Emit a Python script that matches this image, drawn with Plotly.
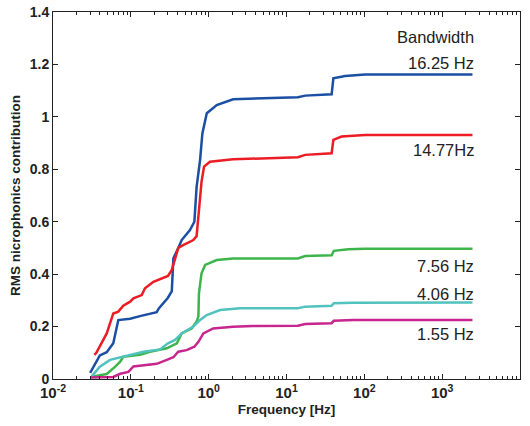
import plotly.graph_objects as go

# Frequency [Hz] / cumulative RMS microphonics for each bandwidth
blue_x = [0.030, 0.040, 0.049, 0.0595, 0.069, 0.098, 0.131, 0.215, 0.23, 0.275, 0.30, 0.336, 0.352, 0.407, 0.45, 0.575, 0.655, 0.70, 0.776, 0.83, 0.946, 1.27, 2.06, 14, 17.4, 38, 40, 56.6, 102, 2450]
blue_y = [0.023, 0.09, 0.102, 0.136, 0.225, 0.23, 0.24, 0.255, 0.27, 0.30, 0.31, 0.335, 0.46, 0.50, 0.53, 0.568, 0.60, 0.733, 0.836, 0.937, 1.014, 1.045, 1.067, 1.075, 1.081, 1.086, 1.147, 1.156, 1.162, 1.162]

red_x = [0.034, 0.036, 0.049, 0.0595, 0.069, 0.080, 0.098, 0.108, 0.138, 0.152, 0.195, 0.25, 0.30, 0.336, 0.37, 0.407, 0.47, 0.635, 0.70, 0.738, 0.81, 0.873, 1.04, 2.06, 14, 17.4, 38, 40, 51, 102, 2450]
red_y = [0.092, 0.10, 0.174, 0.25, 0.257, 0.28, 0.295, 0.308, 0.32, 0.346, 0.371, 0.384, 0.393, 0.416, 0.46, 0.50, 0.511, 0.53, 0.545, 0.632, 0.753, 0.81, 0.829, 0.838, 0.846, 0.855, 0.861, 0.912, 0.925, 0.931, 0.931]

green_x = [0.0314, 0.049, 0.063, 0.073, 0.080, 0.131, 0.176, 0.29, 0.39, 0.45, 0.605, 0.70, 0.738, 0.75, 0.81, 0.90, 1.27, 2.06, 14, 17.4, 38, 40.5, 62, 102, 2450]
green_y = [0.009, 0.019, 0.047, 0.066, 0.085, 0.092, 0.104, 0.117, 0.136, 0.174, 0.193, 0.219, 0.238, 0.327, 0.403, 0.435, 0.454, 0.46, 0.46, 0.469, 0.472, 0.489, 0.495, 0.497, 0.497]

cyan_x = [0.0314, 0.040, 0.054, 0.073, 0.098, 0.145, 0.237, 0.30, 0.37, 0.45, 0.635, 0.776, 0.946, 1.4, 2.53, 14, 17.4, 38, 40.5, 72, 2450]
cyan_y = [0.01, 0.047, 0.073, 0.083, 0.092, 0.104, 0.113, 0.136, 0.149, 0.174, 0.20, 0.225, 0.244, 0.263, 0.27, 0.27, 0.276, 0.279, 0.289, 0.291, 0.292]

mag_x = [0.030, 0.0595, 0.073, 0.093, 0.108, 0.145, 0.215, 0.29, 0.352, 0.407, 0.52, 0.655, 0.738, 0.855, 1.14, 2.06, 3.7, 14, 17.4, 38, 40.5, 72, 2450]
mag_y = [0.006, 0.008, 0.02, 0.027, 0.048, 0.052, 0.058, 0.073, 0.083, 0.104, 0.11, 0.123, 0.142, 0.174, 0.193, 0.199, 0.202, 0.203, 0.21, 0.213, 0.222, 0.225, 0.225]

x_tickvals = [0.01, 0.1, 1, 10, 100, 1000, 10000]
x_ticktext = ["10<sup>-2</sup>", "10<sup>-1</sup>", "10<sup>0</sup>", "10<sup>1</sup>",
              "10<sup>2</sup>", "10<sup>3</sup>", "10<sup>4</sup>"]
y_tickvals = [0, 0.2, 0.4, 0.6, 0.8, 1.0, 1.2, 1.4]
y_ticktext = ["0", "0.2", "0.4", "0.6", "0.8", "1", "1.2", "1.4"]

labels = ["Bandwidth", "16.25 Hz", "14.77Hz", "7.56 Hz", "4.06 Hz", "1.55 Hz"]
label_y = [1.305, 1.206, 0.874, 0.431, 0.324, 0.172]

series = [
    (blue_x, blue_y, "#1b4fa3"),
    (red_x, red_y, "#ec1c24"),
    (green_x, green_y, "#3db54a"),
    (cyan_x, cyan_y, "#52c2bf"),
    (mag_x, mag_y, "#c7268f"),
]

fig = go.Figure()
for xs, ys, c in series:
    fig.add_trace(go.Scatter(x=xs, y=ys, mode="lines", line=dict(color=c, width=2.5), showlegend=False))

for t, yv in zip(labels, label_y):
    fig.add_annotation(x=0.906, xref="paper", y=yv, yref="y", text=t, showarrow=False,
                       xanchor="right", yanchor="middle",
                       font=dict(family="Liberation Sans", size=16.5, color="#222222"))

fig.update_layout(
    width=530, height=426,
    margin=dict(l=53, r=10, t=12, b=47),
    paper_bgcolor="white", plot_bgcolor="white",
    font=dict(family="Liberation Sans", color="#222222"),
)
fig.update_xaxes(
    type="log", range=[-2, 4], tickvals=x_tickvals, ticktext=x_ticktext, automargin=False,
    showline=True, linecolor="#222222", linewidth=1, mirror="ticks",
    ticks="inside", ticklen=5, tickcolor="#222222",
    minor=dict(ticks="inside", ticklen=3, tickcolor="#222222", dtick="D1", showgrid=False),
    showgrid=False, zeroline=False,
    tickfont=dict(family="Liberation Sans", size=15, color="#222222", weight="bold"),
    title=dict(text="Frequency [Hz]", font=dict(family="Liberation Sans", size=13.5, weight="bold"), standoff=4),
)
fig.update_yaxes(
    range=[0, 1.4], tickvals=y_tickvals, ticktext=y_ticktext, automargin=False,
    showline=True, linecolor="#222222", linewidth=1, mirror="ticks",
    ticks="inside", ticklen=5, tickcolor="#222222",
    showgrid=False, zeroline=False,
    tickfont=dict(family="Liberation Sans", size=14, color="#222222", weight="bold"),
    title=dict(text="RMS nicrophonics contribution", font=dict(family="Liberation Sans", size=13.5, weight="bold"), standoff=6),
)
fig.write_html("out.html", config={"displayModeBar": False},
               post_script="document.body.style.margin='0';")
